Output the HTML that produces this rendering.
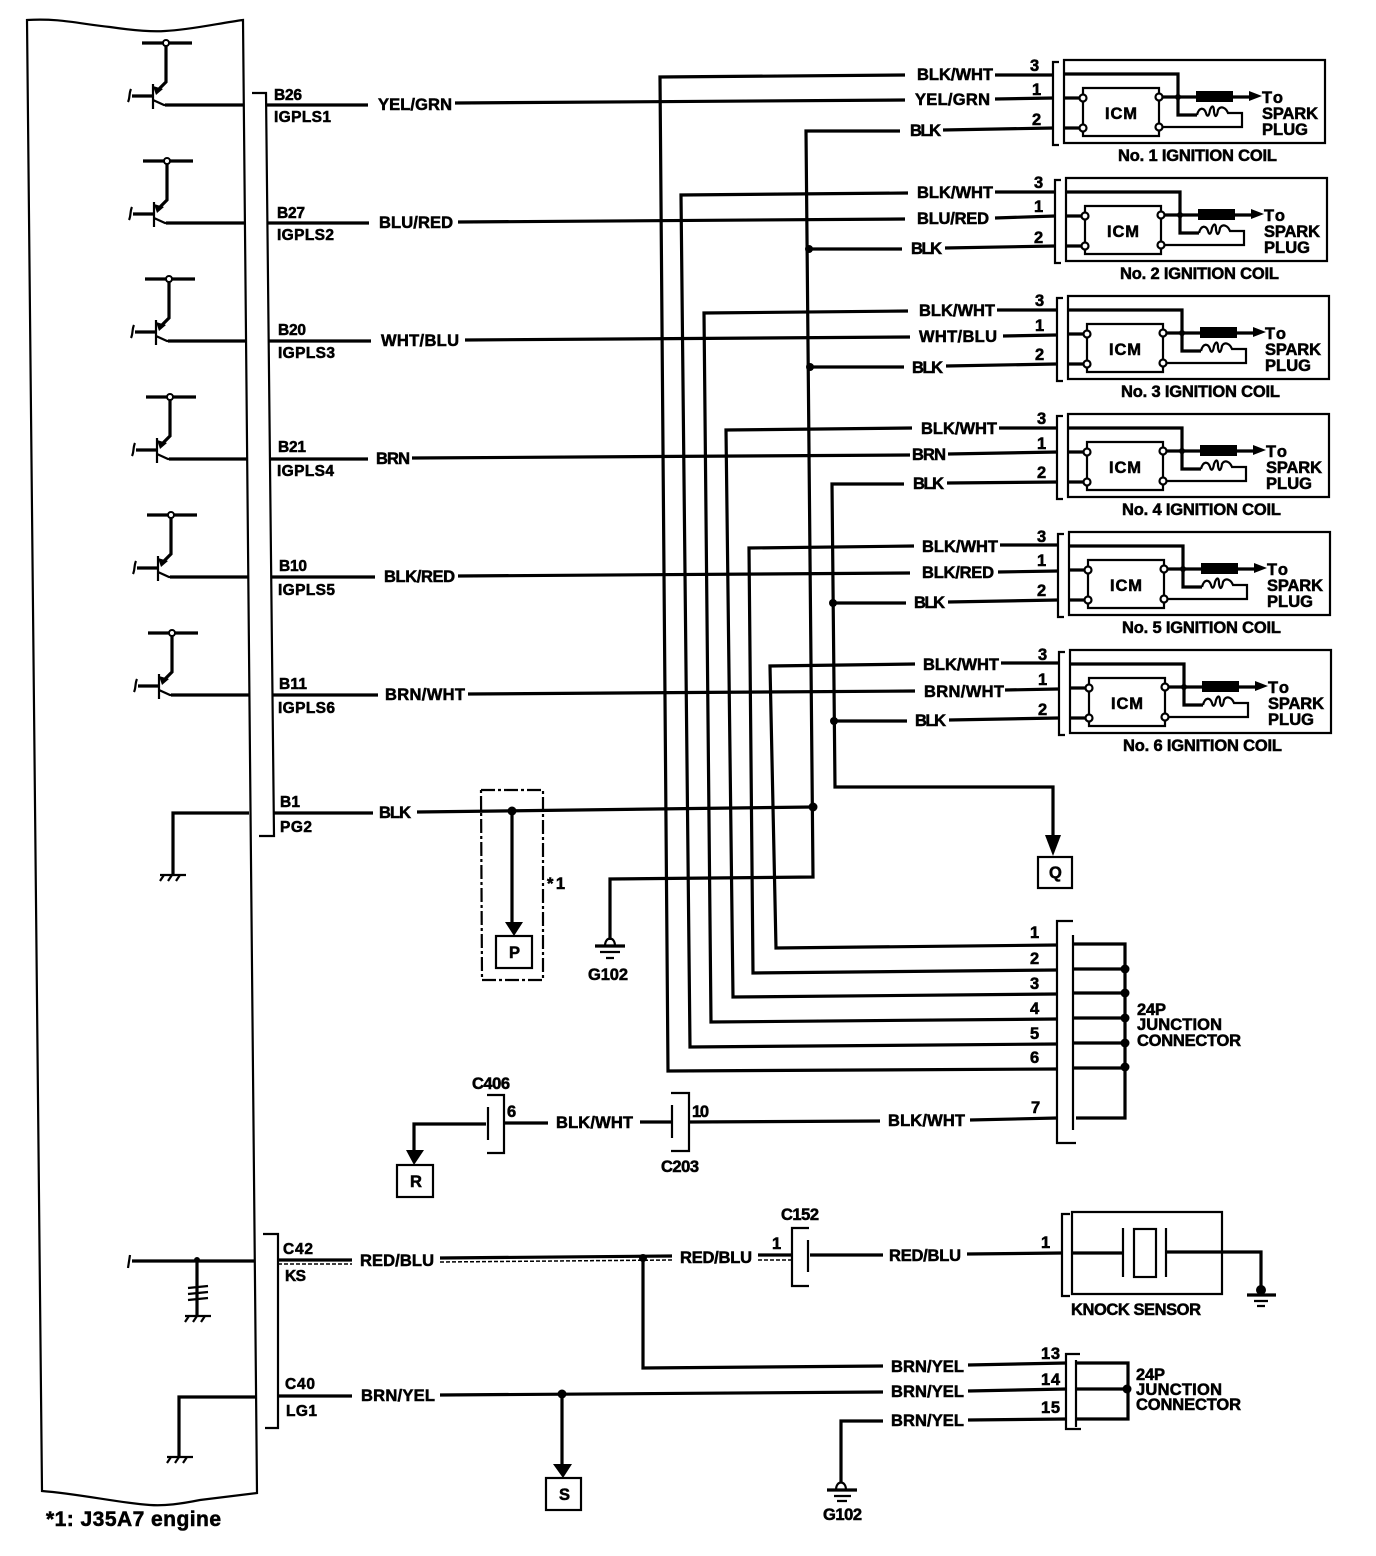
<!DOCTYPE html>
<html><head><meta charset="utf-8"><style>
html,body{margin:0;padding:0;background:#fff}
svg{display:block}
text{font-family:"Liberation Sans",sans-serif;font-weight:bold;font-size:16.5px;fill:#000;stroke:#000;stroke-width:.55}
text.s{font-size:15.5px}
.w{fill:none;stroke:#000;stroke-width:3.2}
.t{fill:none;stroke:#000;stroke-width:2.2}
.f{fill:#000;stroke:none}
</style></head><body>
<svg xmlns="http://www.w3.org/2000/svg" width="1376" height="1556" viewBox="0 0 1376 1556">
<defs>
<g id="coil">
<path class="t" d="M1059 62H1053V145H1059M1064 60H1325V143H1064Z"/>
<path class="w" d="M1064 74H1178V115H1197"/>
<path class="t" d="M1197 115C1199 107 1204 107 1206 113C1207 117 1209 117 1210 110C1212 105 1214 105 1214 112C1215 118 1217 117 1218 110C1221 105 1226 108 1228 113H1242V127H1160"/>
<path class="t" d="M1083 101V125M1083 95V88H1159V94M1159 101V124M1159 131V136H1083V131"/>
<path class="w" d="M1064 98H1080M1064 128H1080"/>
<circle cx="1083" cy="98" r="3.5" fill="#fff" stroke="#000" stroke-width="2.2"/>
<circle cx="1083" cy="128" r="3.5" fill="#fff" stroke="#000" stroke-width="2.2"/>
<circle cx="1159" cy="97" r="3.5" fill="#fff" stroke="#000" stroke-width="2.2"/>
<circle cx="1159" cy="127" r="3.5" fill="#fff" stroke="#000" stroke-width="2.2"/>
<path class="w" d="M1163 97H1250"/>
<circle class="f" cx="1178" cy="97" r="3"/>
<rect class="f" x="1196" y="91" width="37" height="11"/>
<path class="f" d="M1249 91L1262 96L1249 101Z"/>
</g>
<g id="tr">
<path class="w" d="M142 43H192"/>
<path class="w" d="M166 46V82L158 90"/>
<circle cx="166" cy="43" r="3" fill="#fff" stroke="#000" stroke-width="2"/>
<path class="t" d="M153 84V109M153 100L164 105H244"/>
<path class="w" d="M132 96H153M165 105H244"/>
<path class="t" d="M131 89C129 93 130 98 128 102"/>
<path class="f" d="M153 86L163 89L156 95Z"/>
</g>
<g id="gnd">
<path class="t" d="M0 0H26M4 0L0 6M12 0L8 6M20 0L16 6"/>
</g>
</defs>

<!-- ECM outline -->
<path class="t" d="M27 20C60 18 80 24 110 27C130 30 150 32 165 31C190 30 220 23 243 20L257 1493L200 1500C180 1504 165 1506 150 1505C120 1503 80 1494 42 1491Z"/>

<use href="#tr"/>
<use href="#tr" x="1" y="118"/>
<use href="#tr" x="3" y="236"/>
<use href="#tr" x="4" y="354"/>
<use href="#tr" x="5" y="472"/>
<use href="#tr" x="6" y="590"/>

<!-- connector brackets -->
<path class="t" d="M252 93H266L274 836H259"/>
<path class="t" d="M263 1234H278V1428H265"/>

<!-- left labels -->
<text class="s" x="274" y="100" textLength="28">B26</text><text class="s" x="274" y="122" textLength="57">IGPLS1</text>
<text class="s" x="277" y="218" textLength="28">B27</text><text class="s" x="277" y="240" textLength="57">IGPLS2</text>
<text class="s" x="278" y="335" textLength="28">B20</text><text class="s" x="278" y="358" textLength="57">IGPLS3</text>
<text class="s" x="278" y="452" textLength="28">B21</text><text class="s" x="277" y="476" textLength="57">IGPLS4</text>
<text class="s" x="279" y="571" textLength="28">B10</text><text class="s" x="278" y="595" textLength="57">IGPLS5</text>
<text class="s" x="279" y="689" textLength="28">B11</text><text class="s" x="278" y="713" textLength="57">IGPLS6</text>
<text class="s" x="280" y="807" textLength="20">B1</text><text class="s" x="280" y="832" textLength="32">PG2</text>
<text class="s" x="283" y="1254" textLength="30">C42</text><text class="s" x="285" y="1281" textLength="21">KS</text>
<text class="s" x="285" y="1389" textLength="30">C40</text><text class="s" x="286" y="1416" textLength="31">LG1</text>

<!-- signal wires -->
<path class="w" d="M266 105H368M455 103L905 100M995 99L1053 98"/>
<path class="w" d="M268 223H369M458 222L905 219M995 218L1055 216"/>
<path class="w" d="M269 341H371M465 340L910 337M1003 336L1056 335"/>
<path class="w" d="M270 459H368M412 458L910 455M948 454L1058 452"/>
<path class="w" d="M271 577H375M458 576L910 573M998 572L1058 571"/>
<path class="w" d="M272 695H378M468 694L915 691M1005 690L1058 689"/>
<path class="w" d="M274 813H373"/>

<text x="378" y="110" textLength="74">YEL/GRN</text>
<text x="379" y="228" textLength="74">BLU/RED</text>
<text x="381" y="346" textLength="78">WHT/BLU</text>
<text x="376" y="464" textLength="34">BRN</text>
<text x="384" y="582" textLength="71">BLK/RED</text>
<text x="385" y="700" textLength="80">BRN/WHT</text>
<text x="379" y="818" textLength="32">BLK</text>

<!-- right labels -->
<text x="917" y="80" textLength="76">BLK/WHT</text><text x="915" y="105" textLength="75">YEL/GRN</text><text x="910" y="136" textLength="31">BLK</text>
<text x="917" y="198" textLength="76">BLK/WHT</text><text x="917" y="224" textLength="72">BLU/RED</text><text x="911" y="254" textLength="31">BLK</text>
<text x="919" y="316" textLength="76">BLK/WHT</text><text x="919" y="342" textLength="78">WHT/BLU</text><text x="912" y="373" textLength="31">BLK</text>
<text x="921" y="434" textLength="76">BLK/WHT</text><text x="912" y="460" textLength="34">BRN</text><text x="913" y="489" textLength="31">BLK</text>
<text x="922" y="552" textLength="76">BLK/WHT</text><text x="922" y="578" textLength="72">BLK/RED</text><text x="914" y="608" textLength="31">BLK</text>
<text x="923" y="670" textLength="76">BLK/WHT</text><text x="924" y="697" textLength="80">BRN/WHT</text><text x="915" y="726" textLength="31">BLK</text>

<!-- BLK/WHT wires to junction -->
<path class="w" d="M905 75L660 77L668 1071L1057 1069M995 75H1053"/>
<path class="w" d="M908 193L681 195L690 1047L1057 1044M995 192H1055"/>
<path class="w" d="M908 311L704 313L711 1022L1057 1019M997 310H1056"/>
<path class="w" d="M912 428L726 430L733 997L1057 994M999 428H1058"/>
<path class="w" d="M914 546L749 548L753 973L1057 970M1000 545H1058"/>
<path class="w" d="M915 664L770 666L776 948L1057 945M1001 663H1058"/>

<!-- BLK wires -->
<path class="w" d="M900 131H806L813 877L610 879V940M943 130L1053 128"/>
<path class="w" d="M809 249H902M945 248L1055 246"/>
<path class="w" d="M810 367H904M946 366L1056 364"/>
<path class="w" d="M904 484H832L835 787H1053V835M947 483L1058 482"/>
<path class="w" d="M833 603H906M948 602L1058 600"/>
<path class="w" d="M834 721H907M949 720L1058 718"/>
<path class="w" d="M417 812L813 807"/>
<circle class="f" cx="809" cy="249" r="4"/>
<circle class="f" cx="810" cy="367" r="4"/>
<circle class="f" cx="833" cy="603" r="4"/>
<circle class="f" cx="834" cy="721" r="4"/>
<circle class="f" cx="813" cy="807" r="4.5"/>

<!-- coils -->
<use href="#coil"/>
<use href="#coil" x="2" y="118"/>
<use href="#coil" x="4" y="236"/>
<use href="#coil" x="4" y="354"/>
<use href="#coil" x="5" y="472"/>
<use href="#coil" x="6" y="590"/>

<text x="1030" y="71">3</text><text x="1032" y="95">1</text><text x="1032" y="125">2</text>
<text x="1034" y="188">3</text><text x="1034" y="212">1</text><text x="1034" y="243">2</text>
<text x="1035" y="306">3</text><text x="1035" y="331">1</text><text x="1035" y="360">2</text>
<text x="1037" y="424">3</text><text x="1037" y="449">1</text><text x="1037" y="478">2</text>
<text x="1037" y="542">3</text><text x="1037" y="566">1</text><text x="1037" y="596">2</text>
<text x="1038" y="660">3</text><text x="1038" y="685">1</text><text x="1038" y="715">2</text>

<text x="1105" y="119" textLength="32">ICM</text><text x="1262" y="103" textLength="21">To</text><text x="1262" y="119" textLength="56">SPARK</text><text x="1262" y="135" textLength="46">PLUG</text><text x="1118" y="161" textLength="159">No. 1 IGNITION COIL</text>
<text x="1107" y="237" textLength="32">ICM</text><text x="1264" y="221" textLength="21">To</text><text x="1264" y="237" textLength="56">SPARK</text><text x="1264" y="253" textLength="46">PLUG</text><text x="1120" y="279" textLength="159">No. 2 IGNITION COIL</text>
<text x="1109" y="355" textLength="32">ICM</text><text x="1265" y="339" textLength="21">To</text><text x="1265" y="355" textLength="56">SPARK</text><text x="1265" y="371" textLength="46">PLUG</text><text x="1121" y="397" textLength="159">No. 3 IGNITION COIL</text>
<text x="1109" y="473" textLength="32">ICM</text><text x="1266" y="457" textLength="21">To</text><text x="1266" y="473" textLength="56">SPARK</text><text x="1266" y="489" textLength="46">PLUG</text><text x="1122" y="515" textLength="159">No. 4 IGNITION COIL</text>
<text x="1110" y="591" textLength="32">ICM</text><text x="1267" y="575" textLength="21">To</text><text x="1267" y="591" textLength="56">SPARK</text><text x="1267" y="607" textLength="46">PLUG</text><text x="1122" y="633" textLength="159">No. 5 IGNITION COIL</text>
<text x="1111" y="709" textLength="32">ICM</text><text x="1268" y="693" textLength="21">To</text><text x="1268" y="709" textLength="56">SPARK</text><text x="1268" y="725" textLength="46">PLUG</text><text x="1123" y="751" textLength="159">No. 6 IGNITION COIL</text>

<!-- Q -->
<path class="f" d="M1045 835H1061L1053 856Z"/>
<rect class="t" x="1038" y="857" width="34" height="31"/>
<text x="1049" y="878">Q</text>

<!-- P dashed -->
<path class="t" stroke-dasharray="14 3 3 3" d="M481 790H543V980H482Z"/>
<circle class="f" cx="512" cy="811" r="4.5"/>
<path class="w" d="M512 812V925"/>
<path class="f" d="M505 922H523L514 936Z"/>
<rect class="t" x="496" y="936" width="36" height="32"/>
<text x="509" y="958">P</text>
<text x="547" y="889" textLength="18">*1</text>

<!-- G102 -->
<path class="t" d="M605 946C605 936 615 936 615 946"/>
<path class="w" d="M595 946H625"/><path class="t" d="M600 952H620M606 958H614"/>
<text x="588" y="980" textLength="40">G102</text>

<!-- 24P junction top -->
<path class="t" d="M1073 921H1057V1143H1076M1073 935V1130"/>
<path class="w" d="M1074 944H1125V1118H1076M1074 969H1125M1074 993H1125M1074 1018H1125M1074 1043H1125M1074 1068H1125"/>
<path class="w" d="M970 1120L1057 1118"/>
<circle class="f" cx="1125" cy="969" r="4.5"/><circle class="f" cx="1125" cy="993" r="4.5"/><circle class="f" cx="1125" cy="1018" r="4.5"/><circle class="f" cx="1125" cy="1043" r="4.5"/><circle class="f" cx="1125" cy="1067" r="4.5"/>
<text x="1030" y="938">1</text><text x="1030" y="964">2</text><text x="1030" y="989">3</text><text x="1030" y="1014">4</text><text x="1030" y="1039">5</text><text x="1030" y="1063">6</text><text x="1031" y="1113">7</text>
<text x="1137" y="1015" textLength="29">24P</text><text x="1137" y="1030" textLength="85">JUNCTION</text><text x="1137" y="1046" textLength="104">CONNECTOR</text>

<!-- R / C406 / C203 -->
<path class="w" d="M486 1124H414V1150"/>
<path class="f" d="M406 1150H424L414 1165Z"/>
<rect class="t" x="397" y="1165" width="36" height="32"/>
<text x="410" y="1187">R</text>
<path class="t" d="M487 1095H504V1153H487M488 1107V1140"/>
<path class="t" d="M671 1093H689V1151H671M672 1105V1138"/>
<path class="w" d="M505 1123H548M640 1122H672M690 1122L880 1121"/>
<text x="472" y="1089" textLength="38">C406</text><text x="507" y="1117">6</text>
<text x="556" y="1128" textLength="77">BLK/WHT</text>
<text x="692" y="1117" textLength="17">10</text>
<text x="888" y="1126" textLength="77">BLK/WHT</text>
<text x="661" y="1172" textLength="38">C203</text>

<!-- left inner bits -->
<path class="w" d="M249 813H173V875"/>
<use href="#gnd" x="160" y="875"/>
<path class="w" d="M132 1261H255M197 1261V1316M179 1457V1397H256"/>
<path class="t" d="M130 1255L128 1268"/>
<circle class="f" cx="197" cy="1260" r="3"/>
<path class="t" d="M188 1288L208 1286M188 1294L208 1292M188 1300L208 1298"/>
<use href="#gnd" x="185" y="1316"/>
<use href="#gnd" x="167" y="1457"/>

<!-- RED/BLU -->
<path class="w" d="M278 1260H352M440 1258L672 1256M758 1255H792M810 1255H883M967 1254L1062 1253"/>
<path stroke="#000" stroke-width="1.5" fill="none" stroke-dasharray="4 2" d="M278 1264H352M440 1262L672 1260M758 1260H792"/>
<text x="360" y="1266" textLength="74">RED/BLU</text>
<text x="680" y="1263" textLength="72">RED/BLU</text>
<text x="889" y="1261" textLength="72">RED/BLU</text>
<circle class="f" cx="643" cy="1258" r="4"/>
<text x="772" y="1249">1</text>
<text x="781" y="1220" textLength="38">C152</text>
<path class="t" d="M809 1228H792V1286H809M808 1240V1272"/>
<text x="1041" y="1248">1</text>

<!-- knock sensor -->
<path class="t" d="M1070 1214H1062V1296H1070M1072 1212H1222V1294H1072Z"/>
<path class="w" d="M1072 1253H1123M1166 1252H1261V1290"/>
<path class="t" d="M1123 1228V1277M1166 1228V1277"/>
<rect class="t" x="1134" y="1229" width="22" height="48"/>
<circle class="f" cx="1261" cy="1290" r="5"/>
<path class="w" d="M1247 1295H1276"/><path class="t" d="M1254 1301H1268M1257 1306H1265"/>
<text x="1071" y="1315" textLength="130">KNOCK SENSOR</text>

<!-- BRN/YEL -->
<path class="w" d="M643 1258V1368L883 1366M968 1365L1066 1363"/>
<path class="w" d="M278 1396H352M440 1395L883 1392M968 1391L1066 1389"/>
<path class="w" d="M883 1421H841V1482M968 1420L1066 1419"/>
<circle class="f" cx="562" cy="1394" r="4.5"/>
<path class="w" d="M562 1395V1465"/>
<path class="f" d="M553 1464H572L563 1478Z"/>
<rect class="t" x="546" y="1478" width="35" height="32"/>
<text x="559" y="1500">S</text>
<text x="361" y="1401" textLength="74">BRN/YEL</text>
<text x="891" y="1372" textLength="73">BRN/YEL</text>
<text x="891" y="1397" textLength="73">BRN/YEL</text>
<text x="891" y="1426" textLength="73">BRN/YEL</text>
<path class="t" d="M1080 1354H1066V1429H1081M1076 1360V1427"/>
<path class="w" d="M1076 1363H1128V1419H1076M1076 1389H1128"/>
<circle class="f" cx="1127" cy="1389" r="4.5"/>
<text x="1041" y="1359" textLength="19">13</text><text x="1041" y="1385" textLength="19">14</text><text x="1041" y="1413" textLength="19">15</text>
<text x="1136" y="1380" textLength="29">24P</text><text x="1136" y="1395" textLength="86">JUNCTION</text><text x="1136" y="1410" textLength="105">CONNECTOR</text>
<path class="t" d="M836 1490C836 1480 846 1480 846 1490"/>
<path class="w" d="M827 1490H857"/><path class="t" d="M834 1496H851M837 1501H847"/>
<text x="823" y="1520" textLength="39">G102</text>

<text x="46" y="1526" style="font-size:21px" textLength="175">*1: J35A7 engine</text>
</svg>
</body></html>
